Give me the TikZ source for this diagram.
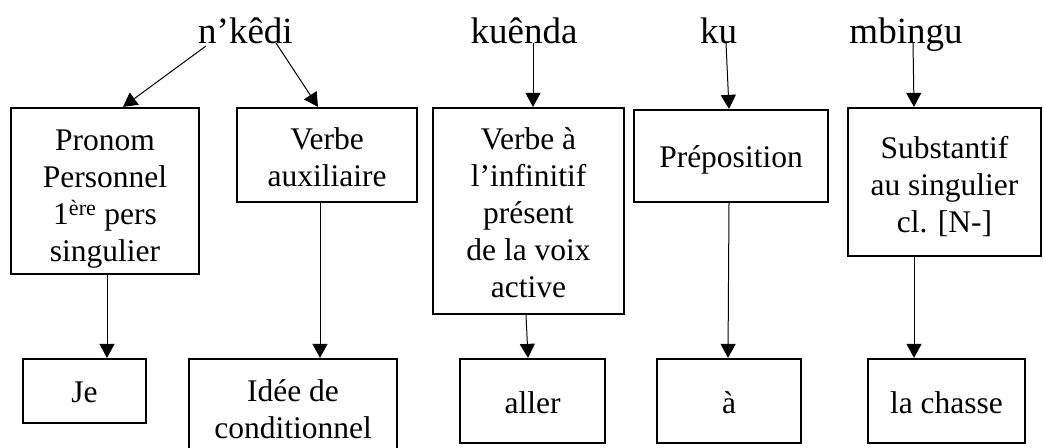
\documentclass[tikz,border=0pt]{standalone}
\usepackage{fontspec}
\setmainfont{Liberation Serif}
\usetikzlibrary{arrows.meta}
\newcommand{\bt}[2][4.5pt]{\raisebox{-#1}[\height][\depth]{\begin{tabular}{@{}c@{}}#2\end{tabular}}}
\begin{document}
\begin{tikzpicture}[x=1pt,y=-1pt,
  wbox/.style={draw,line width=2.2pt,inner sep=0pt,font=\fontsize{31.5}{37}\selectfont},
  word/.style={anchor=base,inner sep=0pt,font=\fontsize{37}{44}\selectfont},
  arr/.style={line width=1pt,-{Triangle[length=14pt,width=15pt]}}]
\useasboundingbox (0,0) rectangle (1043,447);
% words
\node[word] (w1) at (245.5,43) {n’kêdi};
\node[word] (w2) at (524,43) {kuênda};
\node[word] (w3) at (718.5,43) {ku};
\node[word] (w4) at (906,43) {mbingu};
% middle boxes
\node[wbox,minimum width=188pt,minimum height=166pt] (B1) at (105,191)
  {\bt[7.5pt]{Pronom\\Personnel\\1\textsuperscript{ère} pers\\singulier}};
\node[wbox,minimum width=180pt,minimum height=94pt] (B2) at (327,155)
  {\bt[6pt]{Verbe\\auxiliaire}};
\node[wbox,minimum width=191pt,minimum height=206pt] (B3) at (528.5,211)
  {\bt[5pt]{Verbe à\\l’infinitif\\présent\\de la voix\\active}};
\node[wbox,minimum width=194pt,minimum height=92pt] (B4) at (731,156)
  {\bt[4.5pt]{Préposition}};
\node[wbox,minimum width=193pt,minimum height=148pt] (B5) at (944.5,182)
  {\bt[6.5pt]{Substantif\\au singulier\\cl. [N-]}};
% bottom boxes
\node[wbox,minimum width=123pt,minimum height=64pt] (C1) at (84.5,391)
  {\bt[4pt]{Je}};
\node[wbox,minimum width=208pt,minimum height=101pt] (C2) at (293,409.5)
  {\bt[3.5pt]{Idée de\\conditionnel}};
\node[wbox,minimum width=145pt,minimum height=84pt] (C3) at (532.5,401)
  {\bt[4.6pt]{aller}};
\node[wbox,minimum width=144pt,minimum height=84pt] (C4) at (729,401)
  {\bt[4.6pt]{à}};
\node[wbox,minimum width=157pt,minimum height=84pt] (C5) at (946.5,401)
  {\bt[4.6pt]{la chasse}};
% arrows from words
\draw[arr] ([xshift=-39.5pt,yshift=-3pt]w1.base) -- ([xshift=18pt]B1.north);
\draw[arr] ([xshift=30.5pt]w1.base) -- ([xshift=-9pt]B2.north);
\draw[arr] ([xshift=9pt]w2.base) -- ([xshift=4.5pt]B3.north);
\draw[arr] ([xshift=7.5pt]w3.base) -- ([xshift=-2pt]B4.north);
\draw[arr] ([xshift=7pt]w4.base) -- ([xshift=-30.5pt]B5.north);
% arrows from boxes
\draw[arr] ([xshift=2pt]B1.south) -- ([xshift=22.5pt]C1.north);
\draw[arr] ([xshift=-7pt]B2.south) -- ([xshift=27pt]C2.north);
\draw[arr] ([xshift=-2.5pt]B3.south) -- ([xshift=-4.5pt]C3.north);
\draw[arr] ([xshift=-2pt]B4.south) -- ([xshift=-1pt]C4.north);
\draw[arr] ([xshift=-30.5pt]B5.south) -- ([xshift=-32.5pt]C5.north);
\end{tikzpicture}
\end{document}
